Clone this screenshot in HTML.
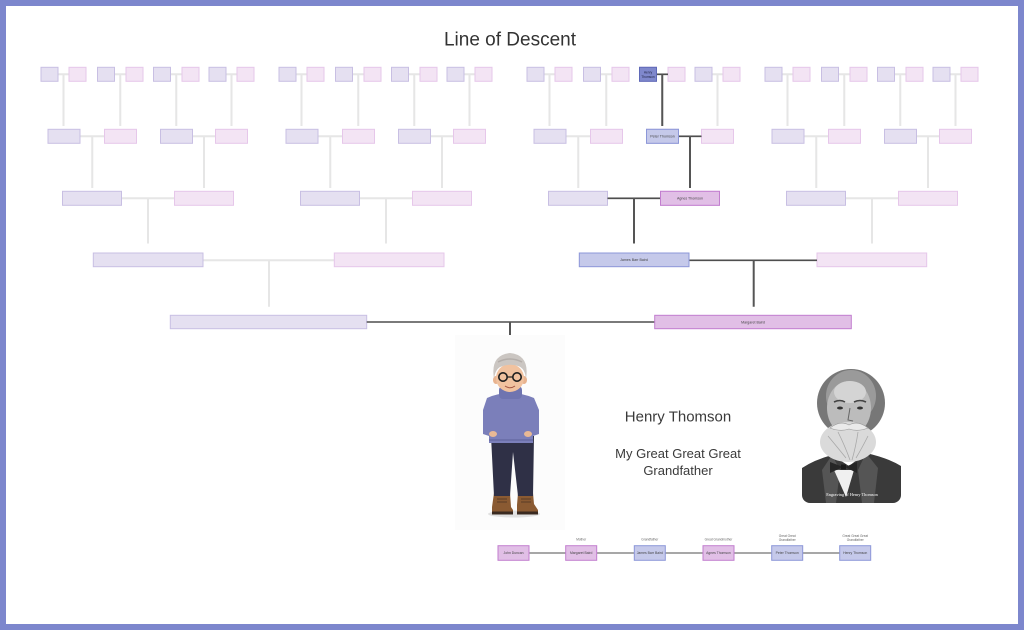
<!DOCTYPE html>
<html>
<head>
<meta charset="utf-8">
<style>
  html, body { margin: 0; padding: 0; background: #ffffff; }
  body { width: 1024px; height: 630px; overflow: hidden; }
  svg { display: block; }
</style>
</head>
<body>
<svg width="1024" height="630" viewBox="0 0 1024 630" xmlns="http://www.w3.org/2000/svg" font-family="'Liberation Sans', sans-serif">
  <defs>
    <g id="q">
      <path fill="none" stroke="#e6e6e6" stroke-width="2"
        d="M58,74.3H69 M114.5,74.3H126 M170.5,74.3H182 M226,74.3H237
           M63.5,74.3V126 M120.25,74.3V126 M176.25,74.3V126 M231.5,74.3V126
           M80,136.3H104.5 M192.5,136.3H215.5 M92.25,136.3V188 M204,136.3V188
           M121.5,198.3H174.5 M148,198.3V243.5"/>
      <g fill="#e5e0f1" stroke="#c8bfe3" stroke-width="1">
        <rect x="41" y="67.3" width="17" height="14"/>
        <rect x="97.5" y="67.3" width="17" height="14"/>
        <rect x="153.5" y="67.3" width="17" height="14"/>
        <rect x="209" y="67.3" width="17" height="14"/>
        <rect x="48" y="129.3" width="32" height="14"/>
        <rect x="160.5" y="129.3" width="32" height="14"/>
        <rect x="62.5" y="191.3" width="59" height="14"/>
      </g>
      <g fill="#f3e4f4" stroke="#e6c7ea" stroke-width="1">
        <rect x="69" y="67.3" width="17" height="14"/>
        <rect x="126" y="67.3" width="17" height="14"/>
        <rect x="182" y="67.3" width="17" height="14"/>
        <rect x="237" y="67.3" width="17" height="14"/>
        <rect x="104.5" y="129.3" width="32" height="14"/>
        <rect x="215.5" y="129.3" width="32" height="14"/>
        <rect x="174.5" y="191.3" width="59" height="14"/>
      </g>
    </g>
    <clipPath id="pc">
      <rect x="802" y="367" width="99" height="136" rx="8" ry="8"/>
    </clipPath>
  </defs>

  <!-- frame -->
  <rect x="3" y="3" width="1018" height="624" fill="none" stroke="#7d87cd" stroke-width="6"/>

  <!-- title -->
  <text x="510" y="45.5" font-size="19" fill="#333" text-anchor="middle">Line of Descent</text>

  <!-- quadrants -->
  <use href="#q" x="0" y="0"/>
  <use href="#q" x="238" y="0"/>
  <use href="#q" x="486" y="0"/>
  <use href="#q" x="724" y="0"/>

  <!-- level 4/5 faded connectors -->
  <path fill="none" stroke="#e6e6e6" stroke-width="2" d="M203,260.3H334.3 M269,260.3V306.7"/>

  <!-- level 4 faded boxes -->
  <rect x="93.3" y="253" width="109.7" height="13.7" fill="#e5e0f1" stroke="#c8bfe3"/>
  <rect x="334.3" y="253" width="109.7" height="13.7" fill="#f3e4f4" stroke="#e6c7ea"/>
  <rect x="817" y="253" width="109.7" height="13.7" fill="#f3e4f4" stroke="#e6c7ea"/>
  <!-- level 5 faded -->
  <rect x="170.3" y="315.3" width="196.4" height="13.4" fill="#e5e0f1" stroke="#c8bfe3"/>

  <!-- highlighted path connectors -->
  <path fill="none" stroke="#4e4e4e" stroke-width="1.6"
    d="M656.5,74.3H668 M678.5,136.3H701.5 M607.5,198.3H660.5 M689,260.3H817 M366.7,322H654.7"/>
  <path fill="none" stroke="#555" stroke-width="2"
    d="M662.25,74.3V126 M690,136.3V188 M634,198.3V243.5 M753.7,260.3V306.7 M510,322V353"/>

  <!-- highlighted boxes -->
  <rect x="639.5" y="67.3" width="17" height="14" fill="#7f88cc" stroke="#5f69b8"/>
  <text font-size="3.2" fill="#1e2240" text-anchor="middle"><tspan x="648" y="73.5">Henry</tspan><tspan x="648" y="77.8">Thomson</tspan></text>

  <rect x="646.5" y="129.3" width="32" height="14" fill="#c5c9ea" stroke="#8c97d8"/>
  <text x="662.5" y="137.6" font-size="3.6" fill="#444" text-anchor="middle">Peter Thomson</text>

  <rect x="660.5" y="191.3" width="59" height="14" fill="#e1bfe6" stroke="#c27ecf"/>
  <text x="690" y="199.6" font-size="3.6" fill="#444" text-anchor="middle">Agnes Thomson</text>

  <rect x="579.3" y="253" width="109.7" height="13.7" fill="#c5c9ea" stroke="#8c97d8"/>
  <text x="634" y="261.2" font-size="3.6" fill="#444" text-anchor="middle">James Barr Baird</text>

  <rect x="654.7" y="315.3" width="196.6" height="13.4" fill="#e1bfe6" stroke="#c27ecf"/>
  <text x="753" y="323.4" font-size="3.6" fill="#444" text-anchor="middle">Margaret Baird</text>

  <!-- person figure -->
  <rect x="455" y="335" width="110" height="195" fill="#fcfcfc"/>
  <ellipse cx="514" cy="514" rx="26" ry="3.5" fill="#d6d6d6" opacity="0.7"/>
  <!-- boots -->
  <path d="M494,493 L510,493 L511,507 L513,510 L513,514 L492,514 L492,507 Z" fill="#8a5a32"/>
  <rect x="492" y="511.5" width="21" height="3" fill="#3a2a20"/>
  <path d="M518,493 L533,493 L534,504 L538,510 L538,514 L517,514 L517,505 Z" fill="#8a5a32"/>
  <rect x="517" y="511.5" width="21" height="3" fill="#3a2a20"/>
  <path d="M497,499 L507,499 M497,502 L507,502 M521,499 L531,499 M521,502 L531,502" stroke="#4a3322" stroke-width="0.8"/>
  <!-- pants -->
  <path d="M491,436 L534,436 L533,496 L518,496 L513,452 L510,496 L494,496 Z" fill="#2f3046"/>
  <!-- sweater -->
  <path d="M487,398 Q498,393 510,393 Q522,393 534,398 L539,410 L539,434 L533,436 L533,443 L489,443 L489,436 L483,434 L483,410 Z" fill="#7b7fba"/>
  <path d="M489,440 L533,440" stroke="#6c70aa" stroke-width="2"/>
  <!-- hands -->
  <ellipse cx="493" cy="434" rx="4" ry="3" fill="#e9b995"/>
  <ellipse cx="528" cy="434" rx="4" ry="3" fill="#e9b995"/>
  <!-- turtleneck -->
  <rect x="499" y="386" width="23" height="13" rx="4" fill="#6f74b0"/>
  <!-- head -->
  <ellipse cx="496" cy="380" rx="3" ry="4" fill="#e8b38f"/>
  <ellipse cx="524" cy="380" rx="3" ry="4" fill="#e8b38f"/>
  <ellipse cx="510" cy="378" rx="14" ry="14" fill="#f1c29f"/>
  <path d="M494,379 Q490,355 510,353 Q530,355 526,379 Q525,368 518,366 Q510,363 500,367 Q495,370 494,379 Z" fill="#cbc6c2"/>
  <path d="M498,362 Q510,356 522,362" stroke="#b4aeaa" stroke-width="1.5" fill="none"/>
  <!-- glasses -->
  <circle cx="503" cy="377" r="4.2" fill="none" stroke="#1f1f1f" stroke-width="1.6"/>
  <circle cx="517" cy="377" r="4.2" fill="none" stroke="#1f1f1f" stroke-width="1.6"/>
  <path d="M507,377 L513,377" stroke="#1f1f1f" stroke-width="1.2"/>
  <path d="M505,386 Q510,389.5 515,386" stroke="#a0523e" stroke-width="1" fill="none"/>

  <!-- Henry text -->
  <text x="678" y="421.5" font-size="15" fill="#3a3a3a" text-anchor="middle">Henry Thomson</text>
  <text x="678" y="458" font-size="13" fill="#3a3a3a" text-anchor="middle">My Great Great Great</text>
  <text x="678" y="475" font-size="13" fill="#3a3a3a" text-anchor="middle">Grandfather</text>

  <!-- portrait -->
  <g clip-path="url(#pc)">
    <rect x="802" y="367" width="99" height="136" fill="#ffffff"/>
    <ellipse cx="851" cy="403" rx="34" ry="34" fill="#777"/>
    <ellipse cx="851" cy="396" rx="25" ry="26" fill="#9a9a9a"/>
    <ellipse cx="849" cy="408" rx="22" ry="27" fill="#bcbcbc"/>
    <ellipse cx="850" cy="392" rx="16" ry="11" fill="#d4d4d4"/>
    <path d="M834,402 Q840,399 845,402 M854,402 Q860,399 866,402" stroke="#444" stroke-width="1.6" fill="none"/>
    <ellipse cx="840" cy="408" rx="3" ry="1.5" fill="#333"/>
    <ellipse cx="860" cy="408" rx="3" ry="1.5" fill="#333"/>
    <path d="M850,408 L848,420 L853,421" stroke="#666" stroke-width="1" fill="none"/>
    <!-- suit -->
    <path d="M802,468 Q814,460 832,455 L849,466 L866,453 Q888,458 901,466 L901,503 L802,503 Z" fill="#3a3a3a"/>
    <path d="M832,455 L840,470 L836,503 L826,503 L822,470 Z" fill="#555"/>
    <path d="M866,453 L858,470 L862,503 L874,503 L878,468 Z" fill="#555"/>
    <!-- beard -->
    <ellipse cx="848" cy="442" rx="28" ry="20" fill="#dadada"/>
    <path d="M828,436 Q838,448 846,458 M838,432 Q845,446 850,460 M858,432 Q856,446 852,460 M868,436 Q862,448 856,458" stroke="#a8a8a8" stroke-width="0.8" fill="none"/>
    <path d="M830,428 Q840,420 849,425 Q858,420 868,428 Q858,432 849,429 Q840,432 830,428 Z" fill="#eaeaea" stroke="#999" stroke-width="0.6"/>
    <!-- shirt & tie -->
    <path d="M834,470 L854,470 L846,497 Z" fill="#f0f0f0"/>
    <path d="M830,462 L843,467 L830,473 Z M857,462 L845,467 L857,473 Z" fill="#262626"/>
    <rect x="841" y="464.5" width="5" height="5" fill="#1a1a1a"/>
    <text x="852" y="496" font-size="4.3" fill="#ffffff" text-anchor="middle" font-family="'Liberation Serif', serif">Engraving of Henry Thomson</text>
  </g>

  <!-- bottom chain -->
  <path d="M529,553 H840" stroke="#8a8a8a" stroke-width="1.6"/>
  <g stroke-width="1">
    <rect x="498" y="545.7" width="31" height="14.6" fill="#e1bfe6" stroke="#c27ecf"/>
    <rect x="565.7" y="545.7" width="31" height="14.6" fill="#e1bfe6" stroke="#c27ecf"/>
    <rect x="634.3" y="545.7" width="31" height="14.6" fill="#c5c9ea" stroke="#8c97d8"/>
    <rect x="703" y="545.7" width="31" height="14.6" fill="#e1bfe6" stroke="#c27ecf"/>
    <rect x="771.7" y="545.7" width="31" height="14.6" fill="#c5c9ea" stroke="#8c97d8"/>
    <rect x="839.7" y="545.7" width="31" height="14.6" fill="#c5c9ea" stroke="#8c97d8"/>
  </g>
  <g font-size="3.4" fill="#444" text-anchor="middle">
    <text x="513.5" y="554.2">John Duncan</text>
    <text x="581.2" y="554.2">Margaret Baird</text>
    <text x="649.8" y="554.2">James Barr Baird</text>
    <text x="718.5" y="554.2">Agnes Thomson</text>
    <text x="787.2" y="554.2">Peter Thomson</text>
    <text x="855.2" y="554.2">Henry Thomson</text>
  </g>
  <g font-size="3.2" fill="#666" text-anchor="middle">
    <text x="581.2" y="540.5">Mother</text>
    <text x="649.8" y="540.5">Grandfather</text>
    <text x="718.5" y="540.5">Great Grandmother</text>
    <text x="787.2" y="537">Great Great</text>
    <text x="787.2" y="541">Grandfather</text>
    <text x="855.2" y="537">Great Great Great</text>
    <text x="855.2" y="541">Grandfather</text>
  </g>
</svg>
</body>
</html>
